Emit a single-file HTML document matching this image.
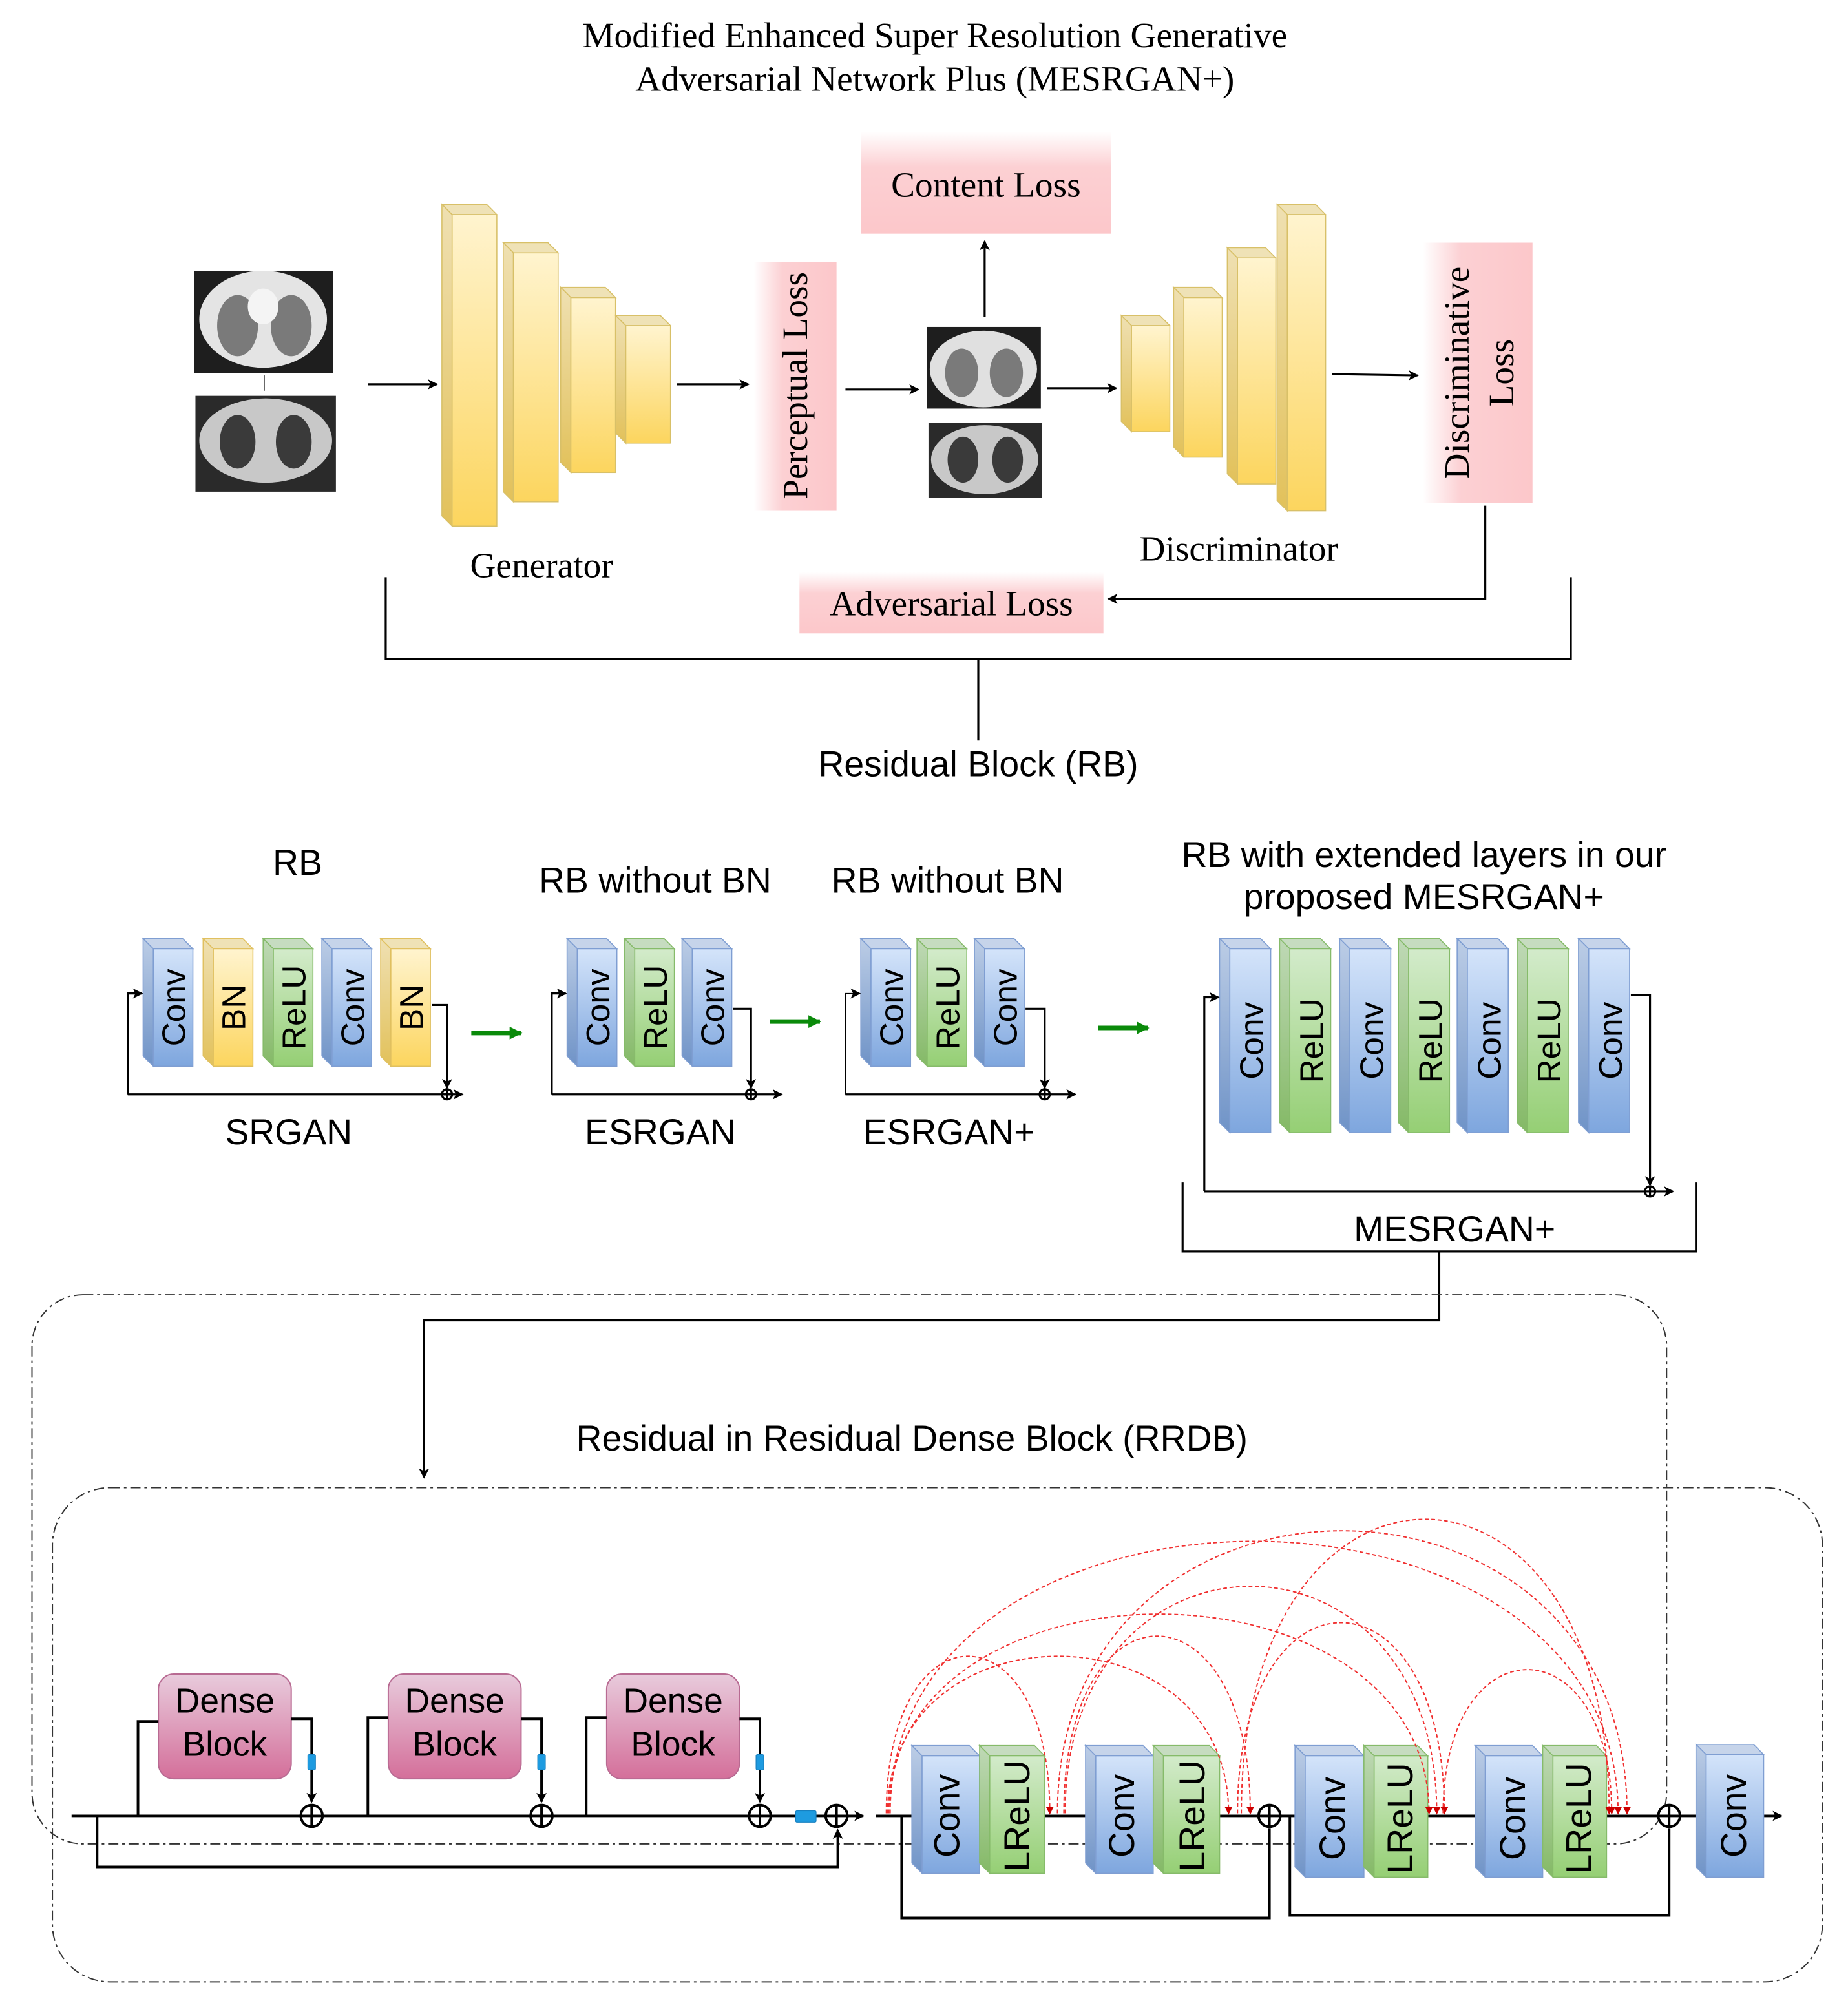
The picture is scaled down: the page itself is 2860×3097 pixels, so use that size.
<!DOCTYPE html>
<html><head><meta charset="utf-8"><style>
html,body{margin:0;padding:0;background:#fff;}
svg{display:block;}
.s{font-family:"Liberation Sans",sans-serif;}
.r{font-family:"Liberation Serif",serif;}
</style></head><body>
<svg width="2860" height="3097" viewBox="0 0 1447 1567" xmlns="http://www.w3.org/2000/svg">
<defs>
<linearGradient id="yel" x1="0" y1="0" x2="0" y2="1"><stop offset="0" stop-color="#fff4cf"/><stop offset="1" stop-color="#fcd55e"/></linearGradient>
<linearGradient id="yelS" x1="0" y1="0" x2="0" y2="1"><stop offset="0" stop-color="#efe0b2"/><stop offset="1" stop-color="#e2c15a"/></linearGradient>
<linearGradient id="blu" x1="0" y1="0" x2="0" y2="1"><stop offset="0" stop-color="#d4e4fa"/><stop offset="1" stop-color="#7ea6de"/></linearGradient>
<linearGradient id="bluS" x1="0" y1="0" x2="0" y2="1"><stop offset="0" stop-color="#bccde6"/><stop offset="1" stop-color="#6f93c7"/></linearGradient>
<linearGradient id="grn" x1="0" y1="0" x2="0" y2="1"><stop offset="0" stop-color="#d3ebcb"/><stop offset="1" stop-color="#95cf74"/></linearGradient>
<linearGradient id="grnS" x1="0" y1="0" x2="0" y2="1"><stop offset="0" stop-color="#bfd9b6"/><stop offset="1" stop-color="#84b966"/></linearGradient>
<linearGradient id="pinkH" x1="0" y1="0" x2="1" y2="0"><stop offset="0" stop-color="#fff"/><stop offset="0.35" stop-color="#fcd0d3"/><stop offset="1" stop-color="#fcc7ca"/></linearGradient>
<linearGradient id="pinkV" x1="0" y1="0" x2="0" y2="1"><stop offset="0" stop-color="#fff"/><stop offset="0.35" stop-color="#fcd0d3"/><stop offset="1" stop-color="#fcc7ca"/></linearGradient>
<linearGradient id="dense" x1="0" y1="0" x2="0" y2="1"><stop offset="0" stop-color="#e8cbdc"/><stop offset="1" stop-color="#d46f9a"/></linearGradient>
<marker id="ar" markerWidth="8" markerHeight="8" refX="7" refY="4" orient="auto" markerUnits="userSpaceOnUse"><path d="M0,0 L8,4 L0,8 L2,4z" fill="#000"/></marker>
<marker id="gr" markerWidth="10" markerHeight="10" refX="9" refY="5" orient="auto" markerUnits="userSpaceOnUse"><path d="M0,0 L10,5 L0,10z" fill="#0a8a0a"/></marker>
<marker id="rd" markerWidth="6" markerHeight="6" refX="5" refY="3" orient="auto" markerUnits="userSpaceOnUse"><path d="M0,0 L6,3 L0,6z" fill="#c00"/></marker>
</defs>

<text class="r" x="732" y="37" font-size="28" text-anchor="middle">Modified Enhanced Super Resolution Generative</text>
<text class="r" x="732" y="71" font-size="28" text-anchor="middle">Adversarial Network Plus (MESRGAN+)</text>

<g>
<rect x="152" y="212" width="109" height="80" fill="#1e1e1e"/>
<ellipse cx="206" cy="250" rx="50" ry="38" fill="#e4e4e4"/>
<ellipse cx="186" cy="255" rx="16" ry="24" fill="#7a7a7a"/>
<ellipse cx="228" cy="255" rx="16" ry="24" fill="#7a7a7a"/>
<ellipse cx="206" cy="240" rx="12" ry="14" fill="#f4f4f4"/>
<rect x="153" y="310" width="110" height="75" fill="#2a2a2a"/>
<ellipse cx="208" cy="345" rx="52" ry="33" fill="#c8c8c8"/>
<ellipse cx="186" cy="346" rx="14" ry="21" fill="#3a3a3a"/>
<ellipse cx="230" cy="346" rx="14" ry="21" fill="#3a3a3a"/>
<rect x="726" y="256" width="89" height="64" fill="#1e1e1e"/>
<ellipse cx="770" cy="289" rx="42" ry="30" fill="#e0e0e0"/>
<ellipse cx="753" cy="292" rx="13" ry="19" fill="#7a7a7a"/>
<ellipse cx="788" cy="292" rx="13" ry="19" fill="#7a7a7a"/>
<rect x="727" y="331" width="89" height="59" fill="#2a2a2a"/>
<ellipse cx="771" cy="360" rx="42" ry="27" fill="#c8c8c8"/>
<ellipse cx="754" cy="360" rx="12" ry="18" fill="#3a3a3a"/>
<ellipse cx="789" cy="360" rx="12" ry="18" fill="#3a3a3a"/>
</g>
<path d="M207 294 V306" stroke="#666" stroke-width="0.8" fill="none"/>

<g stroke="#000" stroke-width="1.6" fill="none">
<path d="M288 301 H342" marker-end="url(#ar)"/>
<path d="M530 301 H586" marker-end="url(#ar)"/>
<path d="M662 305 H719" marker-end="url(#ar)"/>
<path d="M771 248 V189" marker-end="url(#ar)"/>
<path d="M820 304 H874" marker-end="url(#ar)"/>
<path d="M1043 293 L1110 294" marker-end="url(#ar)"/>
<path d="M1163 396 V469 H868" marker-end="url(#ar)"/>
<path d="M302 452 V516 H1230 V452 M766 516 V580"/>
</g>

<g stroke="#d8c068" stroke-width="0.8">
<polygon points="346,160 381,160 389,168 354,168" fill="#efe2b6"/><polygon points="346,160 354,168 354,412 346,404" fill="url(#yelS)"/><rect x="354" y="168" width="35" height="244" fill="url(#yel)"/>
<polygon points="394,190 429,190 437,198 402,198" fill="#efe2b6"/><polygon points="394,190 402,198 402,393 394,385" fill="url(#yelS)"/><rect x="402" y="198" width="35" height="195" fill="url(#yel)"/>
<polygon points="439,225 474,225 482,233 447,233" fill="#efe2b6"/><polygon points="439,225 447,233 447,370 439,362" fill="url(#yelS)"/><rect x="447" y="233" width="35" height="137" fill="url(#yel)"/>
<polygon points="482,247 517,247 525,255 490,255" fill="#efe2b6"/><polygon points="482,247 490,255 490,347 482,339" fill="url(#yelS)"/><rect x="490" y="255" width="35" height="92" fill="url(#yel)"/>

<polygon points="878,247 908,247 916,255 886,255" fill="#efe2b6"/><polygon points="878,247 886,255 886,338 878,330" fill="url(#yelS)"/><rect x="886" y="255" width="30" height="83" fill="url(#yel)"/>
<polygon points="919,225 949,225 957,233 927,233" fill="#efe2b6"/><polygon points="919,225 927,233 927,358 919,350" fill="url(#yelS)"/><rect x="927" y="233" width="30" height="125" fill="url(#yel)"/>
<polygon points="961,194 991,194 999,202 969,202" fill="#efe2b6"/><polygon points="961,194 969,202 969,379 961,371" fill="url(#yelS)"/><rect x="969" y="202" width="30" height="177" fill="url(#yel)"/>
<polygon points="1000,160 1030,160 1038,168 1008,168" fill="#efe2b6"/><polygon points="1000,160 1008,168 1008,400 1000,392" fill="url(#yelS)"/><rect x="1008" y="168" width="30" height="232" fill="url(#yel)"/>
</g>

<rect x="590" y="205" width="65" height="195" fill="url(#pinkH)"/>
<text class="r" transform="translate(632,302) rotate(-90)" font-size="28" text-anchor="middle">Perceptual Loss</text>
<rect x="674" y="103" width="196" height="80" fill="url(#pinkV)"/>
<text class="r" x="772" y="154" font-size="28" text-anchor="middle">Content Loss</text>
<rect x="1114" y="190" width="86" height="204" fill="url(#pinkH)"/>
<text class="r" transform="translate(1150,292) rotate(-90)" font-size="28" text-anchor="middle">Discriminative</text>
<text class="r" transform="translate(1185,292) rotate(-90)" font-size="28" text-anchor="middle">Loss</text>
<rect x="626" y="448" width="238" height="48" fill="url(#pinkV)"/>
<text class="r" x="745" y="482" font-size="28" text-anchor="middle">Adversarial Loss</text>
<text class="r" x="424" y="452" font-size="28" text-anchor="middle">Generator</text>
<text class="r" x="970" y="439" font-size="28" text-anchor="middle">Discriminator</text>
<text class="s" x="766" y="608" font-size="28" text-anchor="middle">Residual Block (RB)</text>

<g class="s" font-size="28" text-anchor="middle">
<text x="233" y="685">RB</text>
<text x="513" y="699">RB without BN</text>
<text x="742" y="699">RB without BN</text>
<text x="1115" y="679">RB with extended layers in our</text>
<text x="1115" y="712">proposed MESRGAN+</text>
<text x="226" y="896">SRGAN</text>
<text x="517" y="896">ESRGAN</text>
<text x="743" y="896">ESRGAN+</text>
<text x="1139" y="972">MESRGAN+</text>
</g>

<g stroke-width="0.8">
<g stroke="#7f9ed2"><polygon points="112,735 143,735 151,743 120,743" fill="#c6d4ea"/><polygon points="112,735 120,743 120,835 112,827" fill="url(#bluS)"/><rect x="120" y="743" width="31" height="92" fill="url(#blu)"/></g>
<g stroke="#e0c060"><polygon points="159,735 190,735 198,743 167,743" fill="#efe2b6"/><polygon points="159,735 167,743 167,835 159,827" fill="url(#yelS)"/><rect x="167" y="743" width="31" height="92" fill="url(#yel)"/></g>
<g stroke="#86bb6a"><polygon points="206,735 237,735 245,743 214,743" fill="#c6dcc0"/><polygon points="206,735 214,743 214,835 206,827" fill="url(#grnS)"/><rect x="214" y="743" width="31" height="92" fill="url(#grn)"/></g>
<g stroke="#7f9ed2"><polygon points="252,735 283,735 291,743 260,743" fill="#c6d4ea"/><polygon points="252,735 260,743 260,835 252,827" fill="url(#bluS)"/><rect x="260" y="743" width="31" height="92" fill="url(#blu)"/></g>
<g stroke="#e0c060"><polygon points="298,735 329,735 337,743 306,743" fill="#efe2b6"/><polygon points="298,735 306,743 306,835 298,827" fill="url(#yelS)"/><rect x="306" y="743" width="31" height="92" fill="url(#yel)"/></g>
<g stroke="#7f9ed2"><polygon points="444,735 475,735 483,743 452,743" fill="#c6d4ea"/><polygon points="444,735 452,743 452,835 444,827" fill="url(#bluS)"/><rect x="452" y="743" width="31" height="92" fill="url(#blu)"/></g>
<g stroke="#86bb6a"><polygon points="489,735 520,735 528,743 497,743" fill="#c6dcc0"/><polygon points="489,735 497,743 497,835 489,827" fill="url(#grnS)"/><rect x="497" y="743" width="31" height="92" fill="url(#grn)"/></g>
<g stroke="#7f9ed2"><polygon points="534,735 565,735 573,743 542,743" fill="#c6d4ea"/><polygon points="534,735 542,743 542,835 534,827" fill="url(#bluS)"/><rect x="542" y="743" width="31" height="92" fill="url(#blu)"/></g>
<g stroke="#7f9ed2"><polygon points="674,735 705,735 713,743 682,743" fill="#c6d4ea"/><polygon points="674,735 682,743 682,835 674,827" fill="url(#bluS)"/><rect x="682" y="743" width="31" height="92" fill="url(#blu)"/></g>
<g stroke="#86bb6a"><polygon points="718,735 749,735 757,743 726,743" fill="#c6dcc0"/><polygon points="718,735 726,743 726,835 718,827" fill="url(#grnS)"/><rect x="726" y="743" width="31" height="92" fill="url(#grn)"/></g>
<g stroke="#7f9ed2"><polygon points="763,735 794,735 802,743 771,743" fill="#c6d4ea"/><polygon points="763,735 771,743 771,835 763,827" fill="url(#bluS)"/><rect x="771" y="743" width="31" height="92" fill="url(#blu)"/></g>
<g stroke="#7f9ed2"><polygon points="955,735 987,735 995,743 963,743" fill="#c6d4ea"/><polygon points="955,735 963,743 963,887 955,879" fill="url(#bluS)"/><rect x="963" y="743" width="32" height="144" fill="url(#blu)"/></g>
<g stroke="#86bb6a"><polygon points="1002,735 1034,735 1042,743 1010,743" fill="#c6dcc0"/><polygon points="1002,735 1010,743 1010,887 1002,879" fill="url(#grnS)"/><rect x="1010" y="743" width="32" height="144" fill="url(#grn)"/></g>
<g stroke="#7f9ed2"><polygon points="1049,735 1081,735 1089,743 1057,743" fill="#c6d4ea"/><polygon points="1049,735 1057,743 1057,887 1049,879" fill="url(#bluS)"/><rect x="1057" y="743" width="32" height="144" fill="url(#blu)"/></g>
<g stroke="#86bb6a"><polygon points="1095,735 1127,735 1135,743 1103,743" fill="#c6dcc0"/><polygon points="1095,735 1103,743 1103,887 1095,879" fill="url(#grnS)"/><rect x="1103" y="743" width="32" height="144" fill="url(#grn)"/></g>
<g stroke="#7f9ed2"><polygon points="1141,735 1173,735 1181,743 1149,743" fill="#c6d4ea"/><polygon points="1141,735 1149,743 1149,887 1141,879" fill="url(#bluS)"/><rect x="1149" y="743" width="32" height="144" fill="url(#blu)"/></g>
<g stroke="#86bb6a"><polygon points="1188,735 1220,735 1228,743 1196,743" fill="#c6dcc0"/><polygon points="1188,735 1196,743 1196,887 1188,879" fill="url(#grnS)"/><rect x="1196" y="743" width="32" height="144" fill="url(#grn)"/></g>
<g stroke="#7f9ed2"><polygon points="1236,735 1268,735 1276,743 1244,743" fill="#c6d4ea"/><polygon points="1236,735 1244,743 1244,887 1236,879" fill="url(#bluS)"/><rect x="1244" y="743" width="32" height="144" fill="url(#blu)"/></g>
</g>
<g class="s" font-size="26" text-anchor="middle">
<text transform="translate(145,789) rotate(-90)">Conv</text>
<text transform="translate(192,789) rotate(-90)">BN</text>
<text transform="translate(239,789) rotate(-90)">ReLU</text>
<text transform="translate(285,789) rotate(-90)">Conv</text>
<text transform="translate(331,789) rotate(-90)">BN</text>
<text transform="translate(477,789) rotate(-90)">Conv</text>
<text transform="translate(522,789) rotate(-90)">ReLU</text>
<text transform="translate(567,789) rotate(-90)">Conv</text>
<text transform="translate(707,789) rotate(-90)">Conv</text>
<text transform="translate(751,789) rotate(-90)">ReLU</text>
<text transform="translate(796,789) rotate(-90)">Conv</text>
<text transform="translate(989,815) rotate(-90)">Conv</text>
<text transform="translate(1036,815) rotate(-90)">ReLU</text>
<text transform="translate(1083,815) rotate(-90)">Conv</text>
<text transform="translate(1129,815) rotate(-90)">ReLU</text>
<text transform="translate(1175,815) rotate(-90)">Conv</text>
<text transform="translate(1222,815) rotate(-90)">ReLU</text>
<text transform="translate(1270,815) rotate(-90)">Conv</text>
</g>

<g stroke="#000" stroke-width="1.6" fill="none">
<path d="M100,857 V778 H111" marker-end="url(#ar)"/><path d="M100,857 H362" marker-end="url(#ar)"/><path d="M338,787 H350 V852" marker-end="url(#ar)"/>
<circle cx="350" cy="857" r="4"/><path d="M346 857h8M350 853v8"/>
<path d="M432,857 V778 H443" marker-end="url(#ar)"/><path d="M432,857 H612" marker-end="url(#ar)"/><path d="M574,790 H588 V852" marker-end="url(#ar)"/>
<circle cx="588" cy="857" r="4"/><path d="M584 857h8M588 853v8"/>
<path d="M662,857 V778 H673" stroke-width="0.8" marker-end="url(#ar)"/><path d="M662,857 H842" marker-end="url(#ar)"/><path d="M803,790 H818 V852" marker-end="url(#ar)"/>
<circle cx="818" cy="857" r="4"/><path d="M814 857h8M818 853v8"/>
<path d="M943,933 V781 H954" marker-end="url(#ar)"/><path d="M943,933 H1310" marker-end="url(#ar)"/><path d="M1277,779 H1292 V928" marker-end="url(#ar)"/>
<circle cx="1292" cy="933" r="4"/><path d="M1288 933h8M1292 929v8"/>
<path d="M926,926 V980 H1328 V926 M1127,980 V1034 H332 V1157" marker-end="url(#ar)"/>
</g>
<g stroke="#0a8a0a" stroke-width="3.5" fill="none">
<path d="M369,809 H408" marker-end="url(#gr)"/>
<path d="M603,800 H642" marker-end="url(#gr)"/>
<path d="M860,805 H899" marker-end="url(#gr)"/>
</g>

<g stroke="#333" stroke-width="1" fill="none" stroke-dasharray="8,3,2,3">
<rect x="25" y="1014" width="1280" height="430" rx="40"/>
<rect x="41" y="1165" width="1386" height="387" rx="45"/>
</g>
<text class="s" x="714" y="1136" font-size="28" text-anchor="middle">Residual in Residual Dense Block (RRDB)</text>

<g stroke="#b86a92" stroke-width="1">
<rect x="124" y="1311" width="104" height="82" rx="12" fill="url(#dense)"/>
<rect x="304" y="1311" width="104" height="82" rx="12" fill="url(#dense)"/>
<rect x="475" y="1311" width="104" height="82" rx="12" fill="url(#dense)"/>
</g>
<g class="s" font-size="27" text-anchor="middle">
<text x="176" y="1341">Dense</text><text x="176" y="1375">Block</text>
<text x="356" y="1341">Dense</text><text x="356" y="1375">Block</text>
<text x="527" y="1341">Dense</text><text x="527" y="1375">Block</text>
</g>
<g stroke="#000" stroke-width="2" fill="none">
<path d="M56,1422 H676" marker-end="url(#ar)"/>
<path d="M108,1422 V1348 H124 M228,1346 H244 V1411" marker-end="url(#ar)"/>
<path d="M288,1422 V1345 H304 M408,1346 H424 V1411" marker-end="url(#ar)"/>
<path d="M459,1422 V1345 H475 M579,1346 H595 V1411" marker-end="url(#ar)"/>
<path d="M76,1422 V1462 H656 V1433" marker-end="url(#ar)"/>
<circle cx="244" cy="1422" r="8.5" fill="#fff"/><path d="M235.5 1422h17M244 1413.5v17"/>
<circle cx="424" cy="1422" r="8.5" fill="#fff"/><path d="M415.5 1422h17M424 1413.5v17"/>
<circle cx="595" cy="1422" r="8.5" fill="#fff"/><path d="M586.5 1422h17M595 1413.5v17"/>
<circle cx="655" cy="1422" r="8.5" fill="#fff"/><path d="M646.5 1422h17M655 1413.5v17"/>
</g>
<g fill="#1e9be0" stroke="#1780c0" stroke-width="0.6">
<rect x="241" y="1374" width="6" height="12" rx="1"/>
<rect x="421" y="1374" width="6" height="12" rx="1"/>
<rect x="592" y="1374" width="6" height="12" rx="1"/>
<rect x="623" y="1418" width="16" height="9" rx="1"/>
</g>

<g stroke="#000" stroke-width="2" fill="none">
<path d="M686,1422 H1395" marker-end="url(#ar)"/>
<path d="M706,1422 V1502 H994 V1432"/>
<path d="M1010,1422 V1500 H1307 V1432"/>
<circle cx="994" cy="1422" r="8.5" fill="#fff"/><path d="M985.5 1422h17M994 1413.5v17"/>
<circle cx="1307" cy="1422" r="8.5" fill="#fff"/><path d="M1298.5 1422h17M1307 1413.5v17"/>
</g>
<g stroke-width="0.8">
<g stroke="#7f9ed2"><polygon points="714,1367 759,1367 767,1375 722,1375" fill="#c6d4ea"/><polygon points="714,1367 722,1375 722,1467 714,1459" fill="url(#bluS)"/><rect x="722" y="1375" width="45" height="92" fill="url(#blu)"/></g>
<g stroke="#86bb6a"><polygon points="767,1367 810,1367 818,1375 775,1375" fill="#c6dcc0"/><polygon points="767,1367 775,1375 775,1467 767,1459" fill="url(#grnS)"/><rect x="775" y="1375" width="43" height="92" fill="url(#grn)"/></g>
<g stroke="#7f9ed2"><polygon points="850,1367 895,1367 903,1375 858,1375" fill="#c6d4ea"/><polygon points="850,1367 858,1375 858,1467 850,1459" fill="url(#bluS)"/><rect x="858" y="1375" width="45" height="92" fill="url(#blu)"/></g>
<g stroke="#86bb6a"><polygon points="903,1367 947,1367 955,1375 911,1375" fill="#c6dcc0"/><polygon points="903,1367 911,1375 911,1467 903,1459" fill="url(#grnS)"/><rect x="911" y="1375" width="44" height="92" fill="url(#grn)"/></g>
<g stroke="#7f9ed2"><polygon points="1014,1367 1060,1367 1068,1375 1022,1375" fill="#c6d4ea"/><polygon points="1014,1367 1022,1375 1022,1470 1014,1462" fill="url(#bluS)"/><rect x="1022" y="1375" width="46" height="95" fill="url(#blu)"/></g>
<g stroke="#86bb6a"><polygon points="1068,1367 1110,1367 1118,1375 1076,1375" fill="#c6dcc0"/><polygon points="1068,1367 1076,1375 1076,1470 1068,1462" fill="url(#grnS)"/><rect x="1076" y="1375" width="42" height="95" fill="url(#grn)"/></g>
<g stroke="#7f9ed2"><polygon points="1155,1367 1200,1367 1208,1375 1163,1375" fill="#c6d4ea"/><polygon points="1155,1367 1163,1375 1163,1470 1155,1462" fill="url(#bluS)"/><rect x="1163" y="1375" width="45" height="95" fill="url(#blu)"/></g>
<g stroke="#86bb6a"><polygon points="1208,1367 1250,1367 1258,1375 1216,1375" fill="#c6dcc0"/><polygon points="1208,1367 1216,1375 1216,1470 1208,1462" fill="url(#grnS)"/><rect x="1216" y="1375" width="42" height="95" fill="url(#grn)"/></g>
<g stroke="#7f9ed2"><polygon points="1328,1366 1373,1366 1381,1374 1336,1374" fill="#c6d4ea"/><polygon points="1328,1366 1336,1374 1336,1470 1328,1462" fill="url(#bluS)"/><rect x="1336" y="1374" width="45" height="96" fill="url(#blu)"/></g>
</g>
<g class="s" font-size="28" text-anchor="middle">
<text transform="translate(751,1422) rotate(-90)">Conv</text>
<text transform="translate(806,1422) rotate(-90)">LReLU</text>
<text transform="translate(888,1422) rotate(-90)">Conv</text>
<text transform="translate(943,1422) rotate(-90)">LReLU</text>
<text transform="translate(1053,1424) rotate(-90)">Conv</text>
<text transform="translate(1106,1424) rotate(-90)">LReLU</text>
<text transform="translate(1194,1424) rotate(-90)">Conv</text>
<text transform="translate(1246,1424) rotate(-90)">LReLU</text>
<text transform="translate(1367,1422) rotate(-90)">Conv</text>
</g>

<g stroke="#f03030" stroke-width="1" fill="none" stroke-dasharray="3,2" marker-end="url(#rd)">
<path d="M694,1420 C694,1256 822,1256 822,1420"/>
<path d="M695,1420 C695,1256 962,1256 962,1420"/>
<path d="M696,1420 C696,1212 1119,1212 1119,1420"/>
<path d="M697,1420 C697,1136 1267,1136 1267,1420"/>
<path d="M833,1420 C833,1235 979,1235 979,1420"/>
<path d="M834,1420 C834,1183 1125,1183 1125,1420"/>
<path d="M828,1420 C828,1125 1274,1125 1274,1420"/>
<path d="M969,1420 C969,1221 1131,1221 1131,1420"/>
<path d="M972,1420 C972,1113 1260,1113 1260,1420"/>
<path d="M1130,1420 C1130,1270 1262,1270 1262,1420"/>
</g>
</svg>
</body></html>
